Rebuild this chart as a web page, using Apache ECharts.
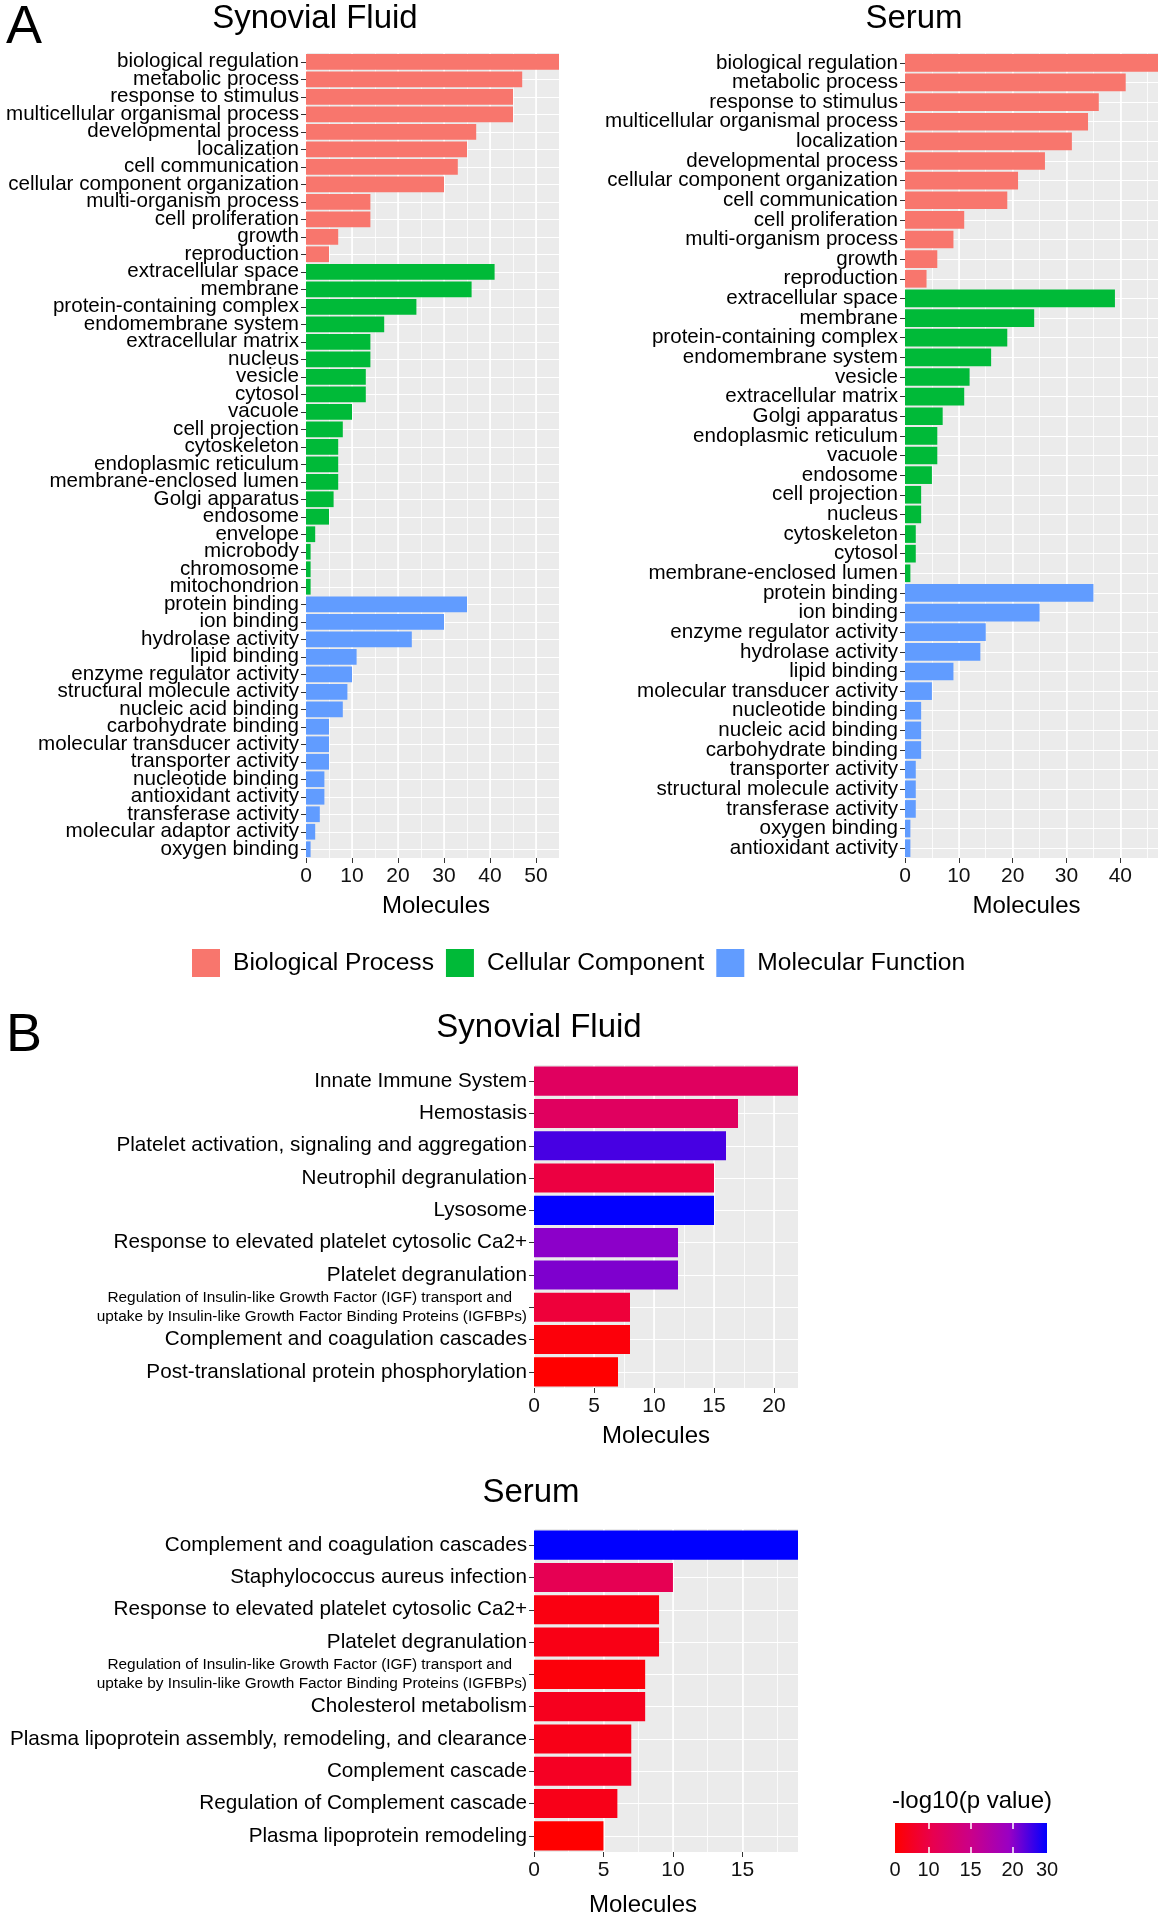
<!DOCTYPE html>
<html lang="en">
<head>
<meta charset="UTF-8">
<title>GO terms and pathways: synovial fluid vs serum</title>
<script src="https://cdn.jsdelivr.net/npm/echarts@6/dist/echarts.min.js"></script>
<style>
    body { margin: 0; padding: 0; background: #fff; }
    #main { width: 1163px; height: 1920px; }
</style>
</head>
<body>
<div id="main"></div>
<script>
// ---- panel A, synovial fluid (GO terms) ----
var sfBpTerms = ['biological regulation', 'metabolic process', 'response to stimulus', 'multicellular organismal process',
    'developmental process', 'localization', 'cell communication', 'cellular component organization',
    'multi-organism process', 'cell proliferation', 'growth', 'reproduction'];
var sfBpCounts = [55, 47, 45, 45, 37, 35, 33, 30, 14, 14, 7, 5];
var sfCcTerms = ['extracellular space', 'membrane', 'protein-containing complex', 'endomembrane system',
    'extracellular matrix', 'nucleus', 'vesicle', 'cytosol', 'vacuole', 'cell projection', 'cytoskeleton',
    'endoplasmic reticulum', 'membrane-enclosed lumen', 'Golgi apparatus', 'endosome', 'envelope',
    'microbody', 'chromosome', 'mitochondrion'];
var sfCcCounts = [41, 36, 24, 17, 14, 14, 13, 13, 10, 8, 7, 7, 7, 6, 5, 2, 1, 1, 1];
var sfMfTerms = ['protein binding', 'ion binding', 'hydrolase activity', 'lipid binding', 'enzyme regulator activity',
    'structural molecule activity', 'nucleic acid binding', 'carbohydrate binding', 'molecular transducer activity',
    'transporter activity', 'nucleotide binding', 'antioxidant activity', 'transferase activity',
    'molecular adaptor activity', 'oxygen binding'];
var sfMfCounts = [35, 30, 23, 11, 10, 9, 8, 5, 5, 5, 4, 4, 3, 2, 1];
var sfGoMax = 55;
var sfGoTicks = [0, 10, 20, 30, 40, 50];

// ---- panel A, serum (GO terms) ----
var seBpTerms = ['biological regulation', 'metabolic process', 'response to stimulus', 'multicellular organismal process',
    'localization', 'developmental process', 'cellular component organization', 'cell communication',
    'cell proliferation', 'multi-organism process', 'growth', 'reproduction'];
var seBpCounts = [47, 41, 36, 34, 31, 26, 21, 19, 11, 9, 6, 4];
var seCcTerms = ['extracellular space', 'membrane', 'protein-containing complex', 'endomembrane system', 'vesicle',
    'extracellular matrix', 'Golgi apparatus', 'endoplasmic reticulum', 'vacuole', 'endosome', 'cell projection',
    'nucleus', 'cytoskeleton', 'cytosol', 'membrane-enclosed lumen'];
var seCcCounts = [39, 24, 19, 16, 12, 11, 7, 6, 6, 5, 3, 3, 2, 2, 1];
var seMfTerms = ['protein binding', 'ion binding', 'enzyme regulator activity', 'hydrolase activity', 'lipid binding',
    'molecular transducer activity', 'nucleotide binding', 'nucleic acid binding', 'carbohydrate binding',
    'transporter activity', 'structural molecule activity', 'transferase activity', 'oxygen binding',
    'antioxidant activity'];
var seMfCounts = [35, 25, 15, 14, 9, 5, 3, 3, 3, 2, 2, 2, 1, 1];
var seGoMax = 47;
var seGoTicks = [0, 10, 20, 30, 40];

var igfLabel = 'Regulation of Insulin-like Growth Factor (IGF) transport and\n' +
    'uptake by Insulin-like Growth Factor Binding Proteins (IGFBPs)';

// ---- panel B, synovial fluid (pathways) ----
var sfPathTerms = ['Innate Immune System', 'Hemostasis', 'Platelet activation, signaling and aggregation',
    'Neutrophil degranulation', 'Lysosome', 'Response to elevated platelet cytosolic Ca2+',
    'Platelet degranulation', igfLabel, 'Complement and coagulation cascades',
    'Post-translational protein phosphorylation'];
var sfPathCounts = [22, 17, 16, 15, 15, 12, 12, 8, 8, 7];
var sfPathLogP = [11.8, 11.8, 22.0, 9.7, 24.0, 20.0, 20.4, 9.3, 6.6, 6.0];
var sfPathMax = 22;
var sfPathTicks = [0, 5, 10, 15, 20];

// ---- panel B, serum (pathways) ----
var sePathTerms = ['Complement and coagulation cascades', 'Staphylococcus aureus infection',
    'Response to elevated platelet cytosolic Ca2+', 'Platelet degranulation', igfLabel,
    'Cholesterol metabolism', 'Plasma lipoprotein assembly, remodeling, and clearance', 'Complement cascade',
    'Regulation of Complement cascade', 'Plasma lipoprotein remodeling'];
var sePathCounts = [19, 10, 9, 9, 8, 8, 7, 7, 6, 5];
var sePathLogP = [24.1, 10.8, 7.0, 7.2, 6.6, 7.7, 7.3, 8.0, 7.4, 6.0];
var sePathMax = 19;
var sePathTicks = [0, 5, 10, 15];

// colour bar of -log10(p)
var pRange = [6.0, 24.1];
var pLegendValues = [6.0, 10, 15, 20, 24.1];
var pLegendLabels = ['0', '10', '15', '20', '30'];

var ff = '"Liberation Sans", Arial, Helvetica, sans-serif';
var goColors = ['#F8766D', '#00BA38', '#619CFF'];
var goNames = ['Biological Process', 'Cellular Component', 'Molecular Function'];
// red -> blue, interpolated in Lab like ggplot does
var pColors = ['#FF0000', '#E8004F', '#CA0089', '#9A00C3', '#0000FF'];

function padded(counts, before, total) {
    var out = [];
    for (var i = 0; i < total; i++) {
        var k = i - before;
        out.push(k >= 0 && k < counts.length ? counts[k] : '-');
    }
    return out;
}

// white row lines through the middle of each category, under the bars
function rowLines(cats) {
    return {
        silent: true, z: 1, symbol: ['none', 'none'], label: {show: false},
        lineStyle: {color: '#fff', width: 1.2, type: 'solid'},
        emphasis: {disabled: true},
        data: cats.map(function (c) { return {yAxis: c}; })
    };
}

function goSeries(stack, xi, yi, bp, cc, mf) {
    var n = bp.length + cc.length + mf.length;
    var parts = [padded(bp, 0, n), padded(cc, bp.length, n), padded(mf, bp.length + cc.length, n)];
    return parts.map(function (d, j) {
        return {
            name: goNames[j], type: 'bar', stack: stack, xAxisIndex: xi, yAxisIndex: yi,
            barCategoryGap: '10%', itemStyle: {color: goColors[j]}, data: d
        };
    });
}

function valueAxes(gi, max, ticks, major, minor, gap, namePad) {
    return [{
        type: 'value', gridIndex: gi, min: 0, max: max, interval: major,
        axisLine: {show: false},
        axisTick: {show: true, length: 5, lineStyle: {color: '#333'}, customValues: ticks},
        axisLabel: {fontSize: 21, color: '#111', margin: 8, fontFamily: ff, customValues: ticks},
        splitLine: {show: true, lineStyle: {color: '#fff', width: 1.6}},
        name: 'Molecules', nameLocation: 'middle', nameGap: gap,
        nameTextStyle: {fontSize: 24, color: '#000', fontFamily: ff, padding: namePad}
    }, {
        type: 'value', gridIndex: gi, min: 0, max: max, interval: minor,
        axisLine: {show: false}, axisTick: {show: false}, axisLabel: {show: false},
        splitLine: {show: true, lineStyle: {color: '#fff', width: 0.8}}
    }];
}

function catAxis(gi, cats, size, rich) {
    var ax = {
        type: 'category', gridIndex: gi, data: cats, inverse: true,
        axisLine: {show: false},
        axisTick: {show: true, alignWithLabel: true, interval: 0, length: 5, lineStyle: {color: '#333'}},
        axisLabel: {interval: 0, fontSize: size, color: '#000', margin: 7, fontFamily: ff},
        splitLine: {show: false}
    };
    if (rich) {
        // two-line label in a smaller font, first line centred over the second
        ax.axisLabel.formatter = function (v) {
            if (v.indexOf('\n') < 0) return v;
            var p = v.split('\n');
            return '{s1|' + p[0] + '}\n{s2|' + p[1] + '}';
        };
        ax.axisLabel.rich = {
            s1: {fontSize: 15.4, lineHeight: 18.5, color: '#000', fontFamily: ff, padding: [0, 15, 0, 0]},
            s2: {fontSize: 15.4, lineHeight: 18.5, color: '#000', fontFamily: ff}
        };
    }
    return ax;
}

function pathData(terms, counts, logp) {
    return terms.map(function (t, i) { return [counts[i], t, logp[i]]; });
}

var sfGoCats = sfBpTerms.concat(sfCcTerms, sfMfTerms);
var seGoCats = seBpTerms.concat(seCcTerms, seMfTerms);

function grid(l, t, w, h) {
    return {left: l, top: t, width: w, height: h, show: true, backgroundColor: '#EBEBEB', borderWidth: 0};
}

var myChart = echarts.init(document.getElementById('main'));

var series = [];
series = series.concat(goSeries('a1', 0, 0, sfBpCounts, sfCcCounts, sfMfCounts));
series = series.concat(goSeries('a2', 2, 1, seBpCounts, seCcCounts, seMfCounts));
series[0].markLine = rowLines(sfGoCats);
series[3].markLine = rowLines(seGoCats);
series.push({
    name: 'sf pathways', type: 'bar', xAxisIndex: 4, yAxisIndex: 2, barCategoryGap: '10%',
    encode: {x: 0, y: 1}, data: pathData(sfPathTerms, sfPathCounts, sfPathLogP),
    markLine: rowLines(sfPathTerms)
});
series.push({
    name: 'serum pathways', type: 'bar', xAxisIndex: 6, yAxisIndex: 3, barCategoryGap: '10%',
    encode: {x: 0, y: 1}, data: pathData(sePathTerms, sePathCounts, sePathLogP),
    markLine: rowLines(sePathTerms)
});
// colour bar: an empty base up to the low end, then the gradient
series.push({
    type: 'bar', xAxisIndex: 8, yAxisIndex: 4, stack: 'cb', barWidth: '100%', silent: true,
    itemStyle: {color: 'rgba(0,0,0,0)'}, data: [pRange[0]]
});
series.push({
    type: 'bar', xAxisIndex: 8, yAxisIndex: 4, stack: 'cb', barWidth: '100%', silent: true,
    itemStyle: {
        color: new echarts.graphic.LinearGradient(0, 0, 1, 0, pColors.map(function (c, i) {
            return {offset: i / (pColors.length - 1), color: c};
        }))
    },
    data: [pRange[1] - pRange[0]]
});

function cbAxis(pos) {
    return {
        type: 'value', gridIndex: 4, min: pRange[0], max: pRange[1], position: pos, z: 5,
        axisLine: {show: false},
        axisTick: {show: true, inside: true, length: 6, lineStyle: {color: '#fff', width: 1.5},
            customValues: pLegendValues.slice(1, -1)},
        axisLabel: {
            show: pos === 'bottom', customValues: pLegendValues, fontSize: 20, color: '#111', margin: 7,
            fontFamily: ff,
            formatter: function (v) {
                var i = pLegendValues.indexOf(v);
                return i >= 0 ? pLegendLabels[i] : '';
            }
        },
        splitLine: {show: false}
    };
}

var titleStyle = {fontWeight: 'normal', color: '#000', fontFamily: ff};
function ttl(text, x, y, size, align) {
    return {
        text: text, left: x, top: y, padding: 0, textAlign: align || 'center',
        textStyle: Object.assign({fontSize: size}, titleStyle)
    };
}

var option = {
    animation: false,
    textStyle: {fontFamily: ff},
    title: [
        ttl('A', 6, 1, 54, 'left'),
        ttl('Synovial Fluid', 315, 2, 33),
        ttl('Serum', 914, 2, 33),
        ttl('B', 6, 1009, 54, 'left'),
        ttl('Synovial Fluid', 539, 1011, 33),
        ttl('Serum', 531, 1476, 33),
        ttl('-log10(p value)', 972, 1789, 24)
    ],
    legend: {
        data: goNames, left: 192, top: 949, padding: 0, icon: 'rect',
        itemWidth: 28, itemHeight: 28, itemGap: 12, selectedMode: false,
        textStyle: {fontSize: 24.6, color: '#000', fontFamily: ff, padding: [0, 0, 0, 8]}
    },
    visualMap: {
        type: 'continuous', show: false, seriesIndex: [6, 7], dimension: 2,
        min: pRange[0], max: pRange[1], inRange: {color: pColors}
    },
    grid: [
        grid(306, 53, 253, 805),
        grid(905, 53, 253, 805),
        grid(534, 1065, 264, 323),
        grid(534, 1529, 264, 323),
        {left: 895, top: 1823, width: 152, height: 30, show: false}
    ],
    xAxis: [].concat(
        valueAxes(0, sfGoMax, sfGoTicks, 10, 5, 36, [0, 0, 0, 7]),
        valueAxes(1, seGoMax, seGoTicks, 10, 5, 36, [0, 10, 0, 0]),
        valueAxes(2, sfPathMax, sfPathTicks, 5, 2.5, 36, [0, 20, 0, 0]),
        valueAxes(3, sePathMax, sePathTicks, 5, 2.5, 41, [0, 46, 0, 0]),
        [cbAxis('bottom'), cbAxis('top')]
    ),
    yAxis: [
        catAxis(0, sfGoCats, 20.6),
        catAxis(1, seGoCats, 20.6),
        catAxis(2, sfPathTerms, 20.7, true),
        catAxis(3, sePathTerms, 20.7, true),
        {type: 'category', gridIndex: 4, data: ['p'], show: false}
    ],
    series: series
};

myChart.setOption(option);
</script>
</body>
</html>
